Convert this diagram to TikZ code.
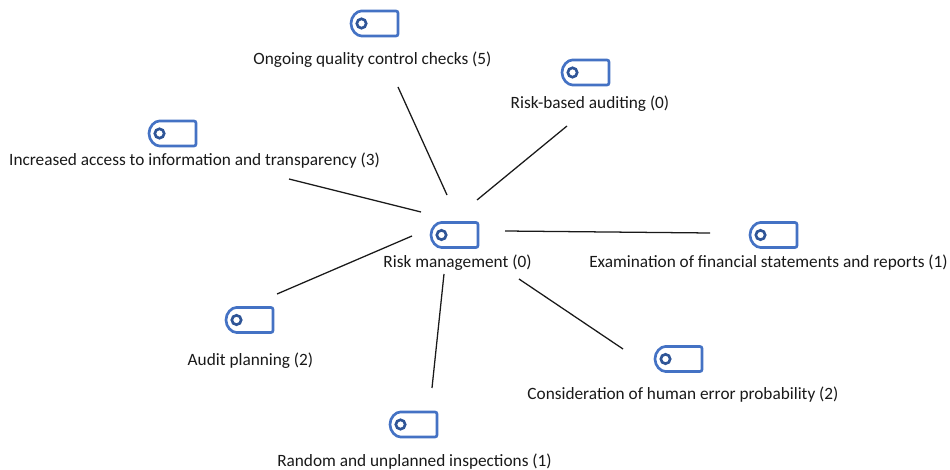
\documentclass[tikz,border=0pt]{standalone}
\usepackage{fontspec}
\setmainfont{Carlito}
\definecolor{iconblue}{HTML}{4472C4}
\definecolor{ringblue}{HTML}{2F5597}
\tikzset{
  x=0.75pt,y=-0.75pt,
  lbl/.style={font=\fontsize{12.95pt}{15pt}\selectfont,text=black!90,inner sep=0pt,anchor=center},
  conn/.style={draw=black!90,line width=0.95pt},
  tag/.pic={
    \draw[iconblue,line width=2pt,rounded corners=1.5pt] (23.5,-12.5) -- (23.5,12.5) -- (-11,12.5)
      arc[start angle=270,end angle=90,x radius=9.4pt,y radius=9.4pt] -- cycle;
    \draw[ringblue,line width=2pt] (-13,0) circle[radius=3.5pt];
  }
}
\begin{document}
\begin{tikzpicture}
\useasboundingbox (0,0) rectangle (950,470);
\pic at (374.5,23.5) {tag};
\pic at (585.5,72.5) {tag};
\pic at (172.5,133.5) {tag};
\pic at (454.5,235) {tag};
\pic at (773.5,235) {tag};
\pic at (249.5,320) {tag};
\pic at (678.5,359) {tag};
\pic at (413.5,424.5) {tag};
\node[lbl] (ongoing) at (372.5,60) {Ongoing quality control checks (5)};
\node[lbl] (based) at (590,104) {Risk-based auditing (0)};
\node[lbl] (access) at (194.5,161) {Increased access to information and transparency (3)};
\node[lbl] (risk) at (457.5,263) {Risk management (0)};
\node[lbl] (exam) at (768.5,263) {Examination of financial statements and reports (1)};
\node[lbl] (audit) at (250.5,361) {Audit planning (2)};
\node[lbl] (human) at (683,395) {Consideration of human error probability (2)};
\node[lbl] (random) at (414.5,462) {Random and unplanned inspections (1)};
\coordinate (a1) at (398,87); \coordinate (b1) at (447,195);
\coordinate (a2) at (567,126); \coordinate (b2) at (477,200);
\coordinate (a3) at (289,179); \coordinate (b3) at (421,212);
\coordinate (a4) at (710,233); \coordinate (b4) at (505,231);
\coordinate (a5) at (277,294); \coordinate (b5) at (412,236);
\coordinate (a6) at (623,349); \coordinate (b6) at (519,279);
\coordinate (a7) at (432,388); \coordinate (b7) at (444,274);
\foreach \i in {1,...,7} \draw[conn] (a\i) -- (b\i);
\end{tikzpicture}
\end{document}
